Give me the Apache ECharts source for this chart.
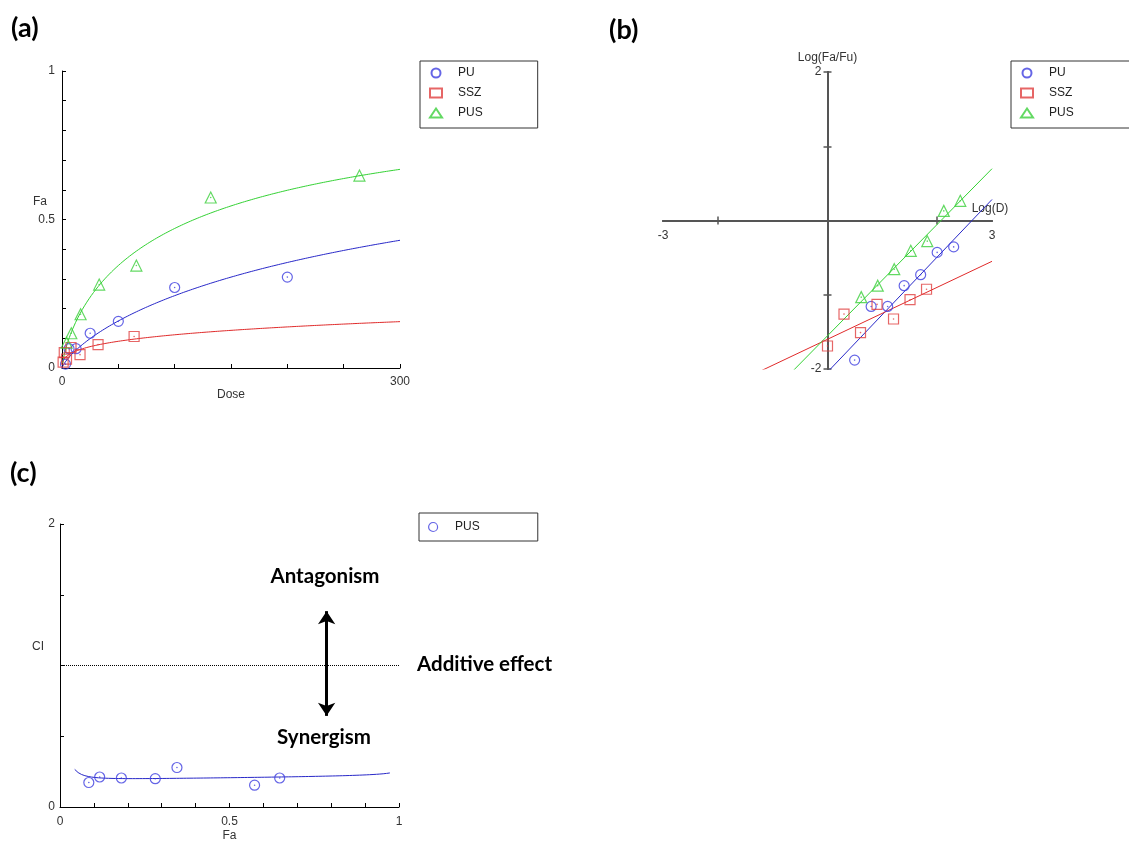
<!DOCTYPE html>
<html>
<head>
<meta charset="utf-8">
<script src="https://cdn.jsdelivr.net/npm/echarts@6/dist/echarts.min.js"></script>
<style>
html,body{margin:0;padding:0;background:#fff;}
#main{width:1129px;height:843px;}
</style>
</head>
<body>
<div id="main"></div>
<script>
// ---- data ----
const puDose  = [3.125, 6.25, 12.5, 25, 50, 100, 200];
const puFa    = [0.013, 0.065, 0.065, 0.117, 0.157, 0.271, 0.306];
const ssDose  = [1, 2, 4, 8, 16, 32, 64];
const ssFa    = [0.020, 0.052, 0.030, 0.069, 0.045, 0.079, 0.106];
const pusDose = [4.125, 8.25, 16.5, 33, 66, 132, 264];
const pusFa   = [0.085, 0.117, 0.181, 0.281, 0.345, 0.574, 0.648];
const pusCI   = [0.173, 0.212, 0.205, 0.200, 0.279, 0.154, 0.205];
// median-effect fitted parameters [PU, SSZ, PUS]
const slopeM  = [0.775, 0.35, 0.75];
const logDm   = [2.635, 4.571, 2.07];
const mixRatio = [3.125, 1]; // PU : SSZ in PUS
const seriesNames = ['PU', 'SSZ', 'PUS'];
// tick labels shown
const labelsAx = [0, 300], labelsAy = [0, 0.5, 1];
const labelsBx = [-3, 3], labelsBy = [-2, 2];
const ticksBx = [-2, 2], ticksBy = [-2, -1, 1, 2];
const labelsCx = [0, 0.5, 1], labelsCy = [0, 2];

// ---- styling ----
const BLUE = '#3f3fe0', BLUE_L = '#2828c8';
const RED = '#e04040', RED_L = '#e02a2a';
const GREEN = '#3ccf3c', GREEN_L = '#34d234';
const AX = '#000', TXT = '#333', AXB = '#555';
const FONT = 'Liberation Sans, Arial, sans-serif';

function fitFa(D, k) { return 1 / (1 + Math.pow(10, slopeM[k] * (logDm[k] - Math.log10(D)))); }
function doseAt(fa, k) { return Math.pow(10, logDm[k]) * Math.pow(fa / (1 - fa), 1 / slopeM[k]); }
function ciAt(fa) {
  const D = doseAt(fa, 2), s = mixRatio[0] + mixRatio[1];
  return D * mixRatio[0] / s / doseAt(fa, 0) + D * mixRatio[1] / s / doseAt(fa, 1);
}
const doseGrid = [];
for (let d = 0.5; d <= 300.01; d += (d < 10 ? 0.5 : 2)) doseGrid.push(d);
const faGrid = [];
for (let f = 0.0434; f <= 0.9731; f += 0.01) faGrid.push(f);
faGrid.push(0.973);

const pts = (xs, ys) => xs.map((x, i) => [x, ys[i]]);
const logPts = (ds, fs) => ds.map((d, i) => [Math.log10(d), Math.log10(fs[i] / (1 - fs[i]))]);

const sym = [
  { symbol: 'circle', size: 10, color: BLUE, line: BLUE_L },
  { symbol: 'rect', size: 10, color: RED, line: RED_L },
  { symbol: 'triangle', size: 11, color: GREEN, line: GREEN_L }
];
const rawA = [pts(puDose, puFa), pts(ssDose, ssFa), pts(pusDose, pusFa)];
const rawB = [logPts(puDose, puFa), logPts(ssDose, ssFa), logPts(pusDose, pusFa)];

function scatter(name, data, k, xi, yi) {
  return {
    type: 'scatter', name: name, xAxisIndex: xi, yAxisIndex: yi, data: data,
    symbol: sym[k].symbol, symbolSize: sym[k].size, z: 5,
    itemStyle: { color: 'transparent', borderColor: sym[k].color, borderWidth: 1.2 }
  };
}
function dots(data, k, xi, yi) {
  return {
    type: 'scatter', xAxisIndex: xi, yAxisIndex: yi, data: data, symbol: 'circle',
    symbolSize: 1.6, z: 6, itemStyle: { color: sym[k].color, opacity: 0.8 }
  };
}
function fitLine(data, k, xi, yi) {
  return {
    type: 'line', xAxisIndex: xi, yAxisIndex: yi, data: data, showSymbol: false,
    clip: true, z: 3, lineStyle: { color: sym[k].line, width: 1 }
  };
}

const series = [];
// (a) dose-effect
for (let k = 0; k < 3; k++) series.push(scatter(seriesNames[k], rawA[k], k, 0, 0));
for (let k = 0; k < 3; k++) series.push(fitLine(doseGrid.map(d => [d, fitFa(d, k)]), k, 0, 0));
for (let k = 0; k < 3; k++) series.push(dots(rawA[k], k, 0, 0));
// (b) median-effect plot
for (let k = 0; k < 3; k++) series.push(scatter(seriesNames[k], rawB[k], k, 1, 1));
for (let k = 0; k < 3; k++) series.push(fitLine([-3, 3].map(x => [x, slopeM[k] * (x - logDm[k])]), k, 1, 1));
for (let k = 0; k < 3; k++) series.push(dots(rawB[k], k, 1, 1));
// (c) Fa-CI plot
series.push(scatter('PUS', pts(pusFa, pusCI), 0, 3, 3));
series.push(dots(pts(pusFa, pusCI), 0, 3, 3));
series.push(fitLine(faGrid.map(f => [f, ciAt(f)]), 0, 3, 3));
series.push({
  type: 'line', xAxisIndex: 3, yAxisIndex: 3, data: [], silent: true,
  markLine: {
    silent: true, symbol: ['none', 'none'], label: { show: false },
    lineStyle: { color: '#000', type: [1, 1], width: 1 },
    data: [{ yAxis: 1 }]
  }
});
series.push({
  type: 'line', xAxisIndex: 3, yAxisIndex: 3, data: [], silent: true,
  markLine: {
    silent: true, symbol: ['arrow', 'arrow'], symbolSize: [13, 13], label: { show: false },
    lineStyle: { color: '#000', type: 'solid', width: 3 },
    data: [[{ coord: [0.7865, 0.644] }, { coord: [0.7865, 1.384] }]]
  }
});

const lbl = { color: TXT, fontFamily: FONT, fontSize: 12 };
const legendBase = {
  orient: 'vertical', borderColor: '#333', borderWidth: 1, itemWidth: 12, itemHeight: 9,
  itemGap: 6, selectedMode: false,
  textStyle: { color: '#222', fontFamily: FONT, fontSize: 12, lineHeight: 14, padding: [0, 0, 0, 11] }
};

// panel (b): grid 663..992 x, 72..369 y ; axes cross at origin
const B_LEFT = 663, B_TOP = 72, B_W = 329, B_H = 297;
const xOff = -B_H / 2, yOff = -B_W / 2;

const option = {
  animation: false,
  backgroundColor: '#fff',
  grid: [
    { left: 62, top: 71, width: 338, height: 297 },
    { left: B_LEFT, top: B_TOP, width: B_W, height: B_H },
    { left: 60, top: 524, width: 339, height: 283 }
  ],
  xAxis: [
    { type: 'value', gridIndex: 0, min: 0, max: 300, interval: 50, name: 'Dose',
      nameLocation: 'middle', nameGap: 9, nameTextStyle: lbl,
      axisLine: { onZero: false, lineStyle: { color: AX, width: 1 } },
      axisTick: { inside: true, length: 4, lineStyle: { color: AX } },
      axisLabel: Object.assign({ customValues: labelsAx, margin: 8 }, lbl), splitLine: { show: false } },
    { type: 'value', gridIndex: 1, position: 'bottom', offset: xOff, min: -3, max: 3, interval: 1, name: 'Log(D)',
      nameLocation: 'end', nameGap: -2,
      nameTextStyle: Object.assign({ align: 'center', verticalAlign: 'bottom', padding: [0, 0, 6, 0] }, lbl),
      axisLine: { onZero: false, lineStyle: { color: AXB, width: 2 } },
      axisTick: { inside: false, length: 4, customValues: ticksBx, lineStyle: { color: AXB, width: 1.5 } },
      axisLabel: Object.assign({ customValues: labelsBx, margin: 9 }, lbl), splitLine: { show: false } },
    { type: 'value', gridIndex: 1, position: 'bottom', offset: xOff, min: -3, max: 3, interval: 1,
      axisLine: { onZero: false, lineStyle: { color: AXB, width: 2 } },
      axisTick: { inside: true, length: 4, customValues: ticksBx, lineStyle: { color: AXB, width: 1.5 } },
      axisLabel: { show: false }, splitLine: { show: false } },
    { type: 'value', gridIndex: 2, min: 0, max: 1, interval: 0.1, name: 'Fa',
      nameLocation: 'middle', nameGap: 23, nameTextStyle: lbl,
      axisLine: { onZero: false, lineStyle: { color: AX, width: 1 } },
      axisTick: { inside: true, length: 4, lineStyle: { color: AX } },
      axisLabel: Object.assign({ customValues: labelsCx, margin: 9 }, lbl), splitLine: { show: false } }
  ],
  yAxis: [
    { type: 'value', gridIndex: 0, min: 0, max: 1, interval: 0.1,
      axisLine: { show: true, onZero: false, lineStyle: { color: AX, width: 1 } },
      axisTick: { show: true, inside: true, length: 4, lineStyle: { color: AX } },
      axisLabel: Object.assign({ customValues: labelsAy, margin: 7 }, lbl), splitLine: { show: false } },
    { type: 'value', gridIndex: 1, position: 'left', offset: yOff, min: -2, max: 2, interval: 1, name: 'Log(Fa/Fu)',
      nameLocation: 'end', nameGap: 8, nameTextStyle: lbl,
      axisLine: { show: true, onZero: false, lineStyle: { color: AXB, width: 2 } },
      axisTick: { show: true, inside: false, length: 4, customValues: ticksBy, lineStyle: { color: AXB, width: 1.5 } },
      axisLabel: Object.assign({ customValues: labelsBy, margin: 6 }, lbl), splitLine: { show: false } },
    { type: 'value', gridIndex: 1, position: 'left', offset: yOff, min: -2, max: 2, interval: 1,
      axisLine: { show: true, onZero: false, lineStyle: { color: AXB, width: 2 } },
      axisTick: { show: true, inside: true, length: 4, customValues: ticksBy, lineStyle: { color: AXB, width: 1.5 } },
      axisLabel: { show: false }, splitLine: { show: false } },
    { type: 'value', gridIndex: 2, min: 0, max: 2, interval: 0.5,
      axisLine: { show: true, onZero: false, lineStyle: { color: AX, width: 1 } },
      axisTick: { show: true, inside: true, length: 4, lineStyle: { color: AX } },
      axisLabel: Object.assign({ customValues: labelsCy, margin: 5 }, lbl), splitLine: { show: false } }
  ],
  legend: [
    Object.assign({}, legendBase, { left: 420, top: 61, padding: [5, 55, 8, 9], data: seriesNames.slice() }),
    Object.assign({}, legendBase, { left: 1011, top: 61, padding: [5, 58, 8, 9], data: seriesNames.slice() }),
    Object.assign({}, legendBase, { left: 419, top: 513, padding: [7, 58, 7, 9],
      data: [{ name: 'PUS', icon: 'circle', itemStyle: { color: 'transparent', borderColor: BLUE, borderWidth: 1.2 } }] })
  ],
  graphic: [
    { type: 'text', x: 11, y: 28, style: { text: '(a)', font: 'bold 27px Lato, sans-serif', fill: '#000', textVerticalAlign: 'middle' } },
    { type: 'text', x: 609, y: 30, style: { text: '(b)', font: 'bold 27px Lato, sans-serif', fill: '#000', textVerticalAlign: 'middle' } },
    { type: 'text', x: 10, y: 473, style: { text: '(c)', font: 'bold 27px Lato, sans-serif', fill: '#000', textVerticalAlign: 'middle' } },
    { type: 'text', x: 40, y: 202, style: { text: 'Fa', font: '12px ' + FONT, fill: TXT, textAlign: 'center', textVerticalAlign: 'middle' } },
    { type: 'text', x: 38, y: 647, style: { text: 'CI', font: '12px ' + FONT, fill: TXT, textAlign: 'center', textVerticalAlign: 'middle' } },
    { type: 'text', x: 325, y: 576, style: { text: 'Antagonism', font: 'bold 20.5px Lato, sans-serif', fill: '#000', textAlign: 'center', textVerticalAlign: 'middle' } },
    { type: 'text', x: 324, y: 737, style: { text: 'Synergism', font: 'bold 20.5px Lato, sans-serif', fill: '#000', textAlign: 'center', textVerticalAlign: 'middle' } },
    { type: 'text', x: 417, y: 664, style: { text: 'Additive effect', font: 'bold 20.5px Lato, sans-serif', fill: '#000', textAlign: 'left', textVerticalAlign: 'middle' } }
  ],
  series: series
};

const chart = echarts.init(document.getElementById('main'), null, { renderer: 'canvas' });
chart.setOption(option);
</script>
</body>
</html>
